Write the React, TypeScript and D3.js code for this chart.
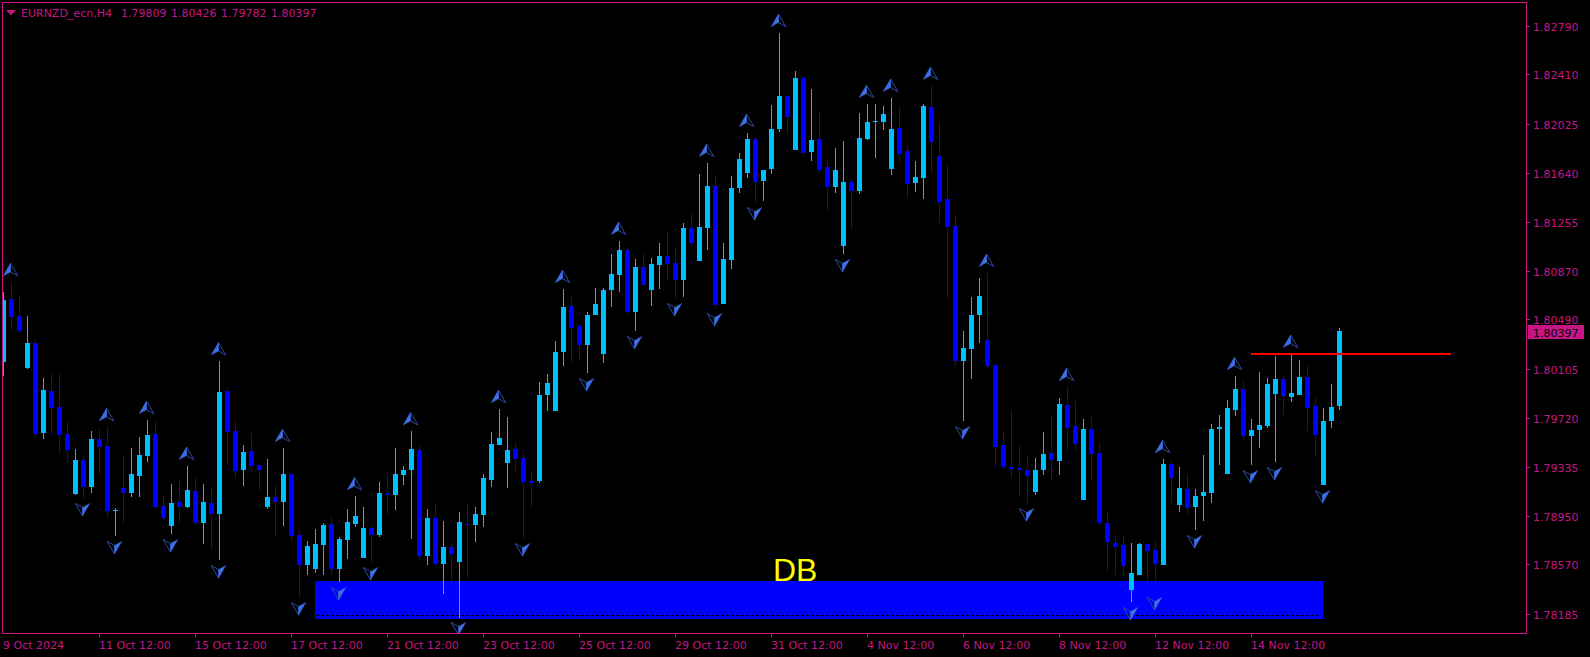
import React from "react";
import * as d3 from "d3";

const POINT = 100000;
const opens = [
  180158,180647,180517,180109,180305,179599,179929,179803,179591,179121,
  179388,179176,179552,179497,178988,179168,179129,179262,179419,179591,
  179027,178870,179058,179019,179145,178894,179050,178964,179929,179615,
  179309,179458,179348,179019,179098,179058,179278,178800,178564,178533,
  178721,178886,178533,178760,178886,178619,178854,178800,179129,179113,
  179270,179309,179466,178635,178933,178572,178706,178588,178886,178878,
  178956,179231,179505,179364,179474,179403,179223,179223,179897,179772,
  180234,180595,180438,180289,180524,180219,180720,180838,181034,180548,
  180901,180720,180916,180987,180932,180799,181206,180948,181206,181536,
  180611,180956,181520,181638,181904,181575,181669,181983,182241,181818,
  182382,181802,181904,181685,181528,181065,181567,181497,181904,182038,
  182038,181669,181990,181810,181559,181598,182155,181771,181435,181222,
  180161,180258,180527,180329,180132,179507,179336,179324,179312,179138,
  179312,179442,179383,179822,179657,179076,179633,179445,178896,178740,
  178722,178372,178489,178731,178681,178569,179359,179038,179159,179020,
  179106,179129,179631,179278,179780,179945,179576,179623,179655,179905,
  180023,179882,179898,180039,179811,179192,179694,179809,
];
const closes = [
  180642,180509,180399,180305,179594,179936,179795,179584,179466,179388,
  179176,179552,179490,178988,178996,179129,179278,179427,179584,179019,
  178933,179050,179019,179152,178894,179058,178964,179921,179607,179301,
  179450,179341,179309,179098,179058,179278,178792,178564,178713,178729,
  178878,178533,178768,178902,178949,178854,178800,179129,179113,179278,
  179309,179474,178635,178933,178572,178706,178651,178902,178878,178964,
  179246,179513,179560,179466,179395,179215,179207,179897,179991,180234,
  180587,180422,180289,180524,180611,180720,180846,181034,180548,180901,
  180760,180924,180987,180924,180799,181206,181089,181214,181536,180603,
  180963,181520,181747,181904,181567,181661,181983,182241,182077,182382,
  181794,181896,181661,181528,181661,181567,181497,181912,182038,182045,
  182100,181983,181787,181551,181606,182163,181881,181411,181216,180161,
  180267,180527,180674,180126,179492,179336,179321,179306,179265,179312,
  179436,179392,179828,179639,179510,179633,179436,178896,178743,178708,
  178560,178504,178731,178678,178575,179359,179244,179170,179014,179106,
  179137,179631,179647,179796,179945,179576,179623,179662,179984,180023,
  179890,179913,180039,179796,179584,179694,179804,180397,
];
const highs = [
  180705,180783,180681,180517,180336,180030,180070,180070,179693,179474,
  179427,179615,179638,179646,179011,179427,179482,179568,179701,179686,
  179105,179199,179239,179341,179246,179199,179176,180164,179952,179701,
  179505,179599,179356,179395,179192,179482,179278,178839,178753,178847,
  178894,178949,178784,179003,179105,179019,178870,179215,179278,179482,
  179341,179615,179497,179003,179050,178909,178729,178980,179050,179019,
  179278,179607,179787,179725,179521,179450,179301,179999,180062,180321,
  180728,180666,180454,180548,180736,180736,181003,181105,181050,180963,
  181003,180971,181089,181175,181050,181246,181316,181630,181716,181622,
  181089,181614,181794,181951,181920,181661,182171,182735,182249,182437,
  182398,182296,182124,181747,181834,181889,181598,182108,182179,182179,
  182163,182226,182155,181857,181732,182179,182320,182038,181709,181302,
  180400,180668,180816,180851,180132,179616,179781,179504,179430,179406,
  179610,179734,179875,179961,179852,179710,179728,179521,178991,178796,
  178802,178740,178740,178740,178764,179395,179386,179336,179280,179161,
  179427,179670,179741,179858,180047,180015,179709,180078,180031,180203,
  180054,180211,180172,180133,179882,179796,179984,180426,
];
const lows = [
  180046,180399,180383,180101,179568,179552,179591,179442,179380,179113,
  179090,179129,179278,178941,178792,178886,179098,179098,179372,179011,
  178909,178807,178886,179011,178878,178729,178690,178604,179356,179246,
  179184,179294,179152,179003,178792,178870,178753,178314,178486,178502,
  178486,178486,178431,178611,178862,178619,178588,178784,178964,178996,
  179192,178768,178604,178564,178557,178337,178423,178149,178462,178745,
  178862,179176,179505,179168,179301,178776,179011,179207,179772,179772,
  180125,180148,180172,180070,180524,180148,180587,180705,180532,180399,
  180752,180595,180728,180791,180658,180666,181058,180948,181034,180579,
  180611,180885,181481,181598,181410,181418,181630,181959,181943,181818,
  181771,181732,181638,181340,181481,181003,181199,181473,181896,181755,
  181975,181622,181724,181442,181489,181434,181638,181249,180653,180126,
  179695,180025,180305,180105,179327,179315,179247,179100,179053,179114,
  179274,179229,179274,179454,179459,179076,179224,178876,178513,178489,
  178489,178277,178484,178401,178401,178569,179053,178982,178967,178839,
  178910,179051,179349,179278,179733,179537,179349,179482,179639,179372,
  179741,179843,179898,179615,179412,179192,179639,179782,
];

const upArrowBars = [1,13,18,23,27,35,44,51,62,70,77,88,93,97,108,111,116,123,133,145,154,161];
const upArrowPrices = [180930,179793,179850,179490,180310,179631,179252,179762,179936,180877,181254,181865,182100,182884,182328,182375,182469,181003,180109,179544,180195,180368];
const downArrowBars = [10,14,21,27,37,42,46,57,65,73,79,84,89,94,105,120,128,141,144,149,156,159,165];
const downArrowPrices = [178949,178651,178666,178462,178172,178290,178447,178016,178635,179929,180258,180517,180438,181269,180862,179552,178909,178133,178212,178698,179207,179231,179050];

const priceTicks = ["1.82790","1.82410","1.82025","1.81640","1.81255","1.80870","1.80490","1.80105","1.79720","1.79335","1.78950","1.78570","1.78185"];
const timeLabels = ["9 Oct 2024","11 Oct 12:00","15 Oct 12:00","17 Oct 12:00","21 Oct 12:00","23 Oct 12:00","25 Oct 12:00","29 Oct 12:00","31 Oct 12:00","4 Nov 12:00","6 Nov 12:00","8 Nov 12:00","12 Nov 12:00","14 Nov 12:00"];
const BARS_PER_LABEL = 12;

const symbolTitle = "EURNZD_ecn,H4";
const ohlcLabels = ["1.79809", "1.80426", "1.79782", "1.80397"];
const bidLabel = "1.80397";
const bidPrice = 180397;
const zoneBars = [39, 165];
const zonePrices = [178439, 178141];
const zoneDashPrice = 178172;
const zoneLabel = "DB";
const resistanceBars = [156, 181];
const resistancePrice = 180219;

const W = 1590, H = 657;
const frame = { left: 2, top: 2, right: 1526, bottom: 633 };
const UP = "#00BFFF", DOWN = "#0000FF", AXIS = "#C71585";
const FONT = "'DejaVu Sans', sans-serif";

const x = d3.scaleLinear().domain([0, 1]).range([3, 11]);
const y = d3.scaleLinear().domain([178185, 182790]).range([613.5, 26]);
const ry = (p: number) => Math.round(y(p));
const line = d3.line();

function Arrow({ bar, price, up }: { bar: number; price: number; up: boolean }) {
  const cx = x(bar) - 0.5;
  const ty = y(price);
  const d = up ? 1 : -1;
  const apex: [number, number] = [cx, ty];
  const left: [number, number] = [cx - 7.3, ty + d * 12.6];
  const right: [number, number] = [cx + 7.3, ty + d * 12.6];
  const notch: [number, number] = [cx, ty + d * 8.6];
  const solid = up ? [apex, left, notch] : [apex, right, notch];
  const hollow = up ? [apex, right, notch] : [apex, left, notch];
  return (
    <g>
      <path d={line(hollow as any) + "Z"} fill="none" stroke="#2b4a9e" strokeWidth={1} />
      <path d={line(solid as any) + "Z"} fill="#3F6FE6" stroke="#3560cf" strokeWidth={0.5} />
    </g>
  );
}

export default function App() {
  const zx0 = x(zoneBars[0]), zx1 = x(zoneBars[1]);
  const bidY = y(bidPrice) + 1;
  return (
    <svg width={W} height={H} viewBox={`0 0 ${W} ${H}`} style={{ position: "fixed", left: 0, top: 0, background: "#000", display: "block" }}>
      <defs>
        <clipPath id="plot">
          <rect x={frame.left + 1} y={frame.top + 1} width={frame.right - frame.left - 1} height={frame.bottom - frame.top - 1} />
        </clipPath>
      </defs>
      <g clipPath="url(#plot)">
        <rect x={zx0} y={ry(zonePrices[0])} width={zx1 - zx0} height={ry(zonePrices[1]) - ry(zonePrices[0])} fill="#0000FF" shapeRendering="crispEdges" />
        <line x1={zx0 + 1} x2={zx1 - 1} y1={ry(zoneDashPrice) + 0.5} y2={ry(zoneDashPrice) + 0.5} stroke="#000" strokeDasharray="3 2" shapeRendering="crispEdges" />
        <g shapeRendering="crispEdges">
          {opens.map((o, i) => {
            const c = closes[i];
            const up = c >= o;
            const col = up ? UP : DOWN;
            const t = ry(Math.max(o, c)), b = ry(Math.min(o, c));
            return (
              <g key={i}>
                <rect x={x(i)} y={ry(highs[i])} width={1} height={Math.max(1, ry(lows[i]) - ry(highs[i]))} fill={col} />
                <rect x={x(i) - 2} y={t} width={5} height={Math.max(1, b - t)} fill={col} />
              </g>
            );
          })}
        </g>
        {upArrowBars.map((b, i) => <Arrow key={"u" + i} bar={b} price={upArrowPrices[i]} up />)}
        {downArrowBars.map((b, i) => <Arrow key={"d" + i} bar={b} price={downArrowPrices[i]} up={false} />)}
        <rect x={x(resistanceBars[0])} y={ry(resistancePrice) - 1} width={x(resistanceBars[1]) - x(resistanceBars[0])} height={2} fill="#FF0000" shapeRendering="crispEdges" />
        <text x={773} y={ry(zonePrices[0])} fontFamily="'Liberation Sans', Arial, sans-serif" fontSize={32} fill="#FFFF00">{zoneLabel}</text>
      </g>

      <rect x={frame.left + 0.5} y={frame.top + 0.5} width={frame.right - frame.left} height={frame.bottom - frame.top} fill="none" stroke={AXIS} shapeRendering="crispEdges" />

      {priceTicks.map((t) => {
        const v = Math.round(parseFloat(t) * POINT);
        const py = Math.round(y(v));
        return (
          <g key={t}>
            <rect x={frame.right + 1} y={py} width={3} height={1} fill={AXIS} shapeRendering="crispEdges" />
            <text x={1533} y={py + 4.5} fontFamily={FONT} fontSize={11} fill={AXIS}>{t}</text>
          </g>
        );
      })}
      <rect x={1528} y={Math.round(bidY) - 7} width={56} height={14} fill={AXIS} shapeRendering="crispEdges" />
      <text x={1533} y={Math.round(bidY) + 4.5} fontFamily={FONT} fontSize={11} fill="#000">{bidLabel}</text>

      {timeLabels.map((t, k) => {
        const tx = x(k * BARS_PER_LABEL);
        return (
          <g key={t}>
            {k > 0 && <rect x={tx} y={frame.bottom + 1} width={1} height={3} fill={AXIS} shapeRendering="crispEdges" />}
            <text x={tx} y={649} fontFamily={FONT} fontSize={11} fill={AXIS}>{t}</text>
          </g>
        );
      })}

      <path d={line([[6, 10], [16, 10], [11, 15.5]] as any) + "Z"} fill={AXIS} />
      <text x={21} y={16.5} fontFamily={FONT} fontSize={11} fill={AXIS}>{symbolTitle}</text>
      {ohlcLabels.map((t, i) => (
        <text key={i} x={121 + i * 50} y={16.5} fontFamily={FONT} fontSize={11} fill={AXIS}>{t}</text>
      ))}
    </svg>
  );
}
